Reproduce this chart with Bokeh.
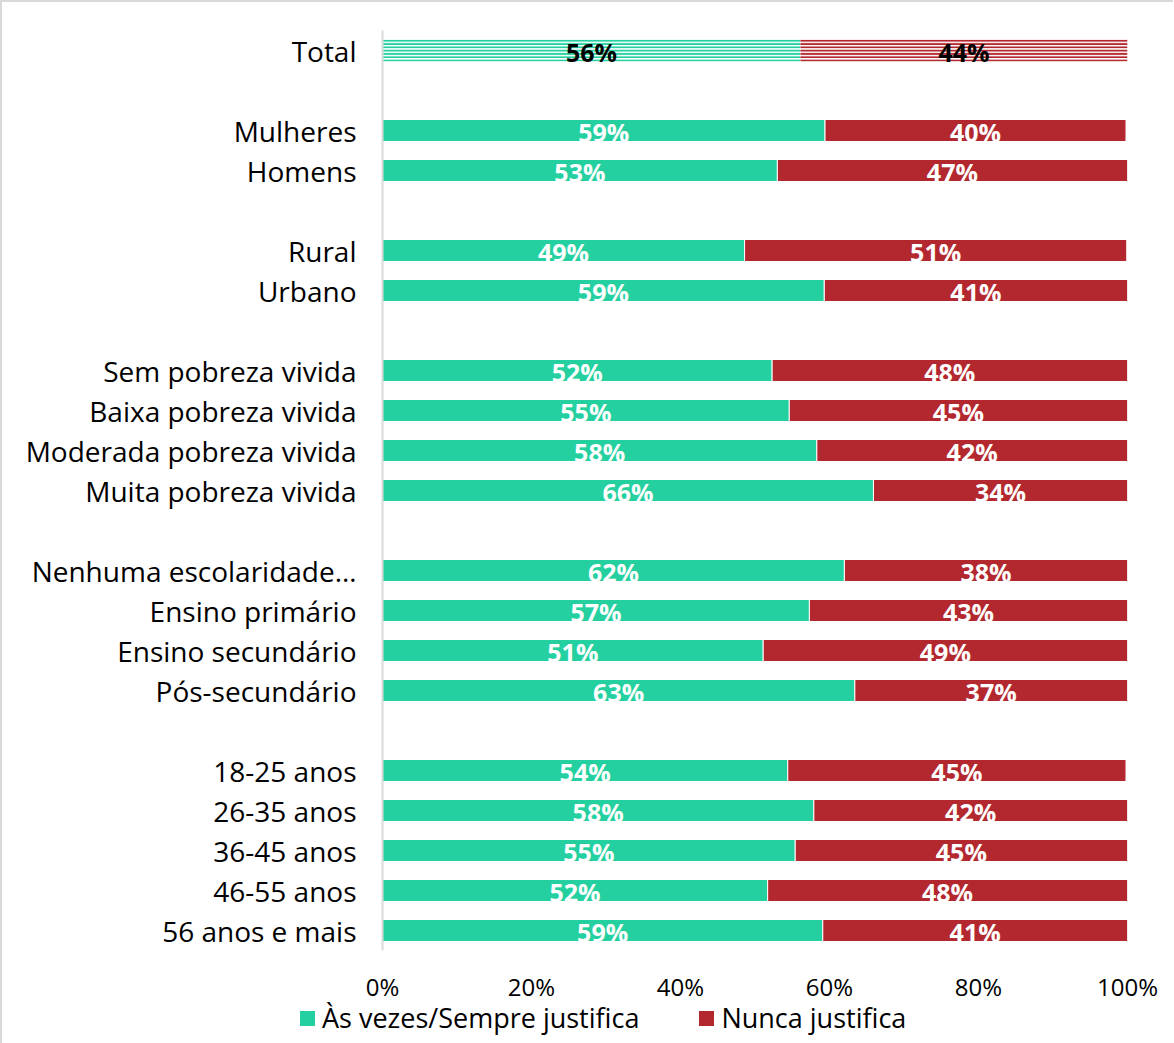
from bokeh.plotting import figure
from bokeh.layouts import column
from bokeh.models import (ColumnDataSource, Range1d, FixedTicker, PrintfTickFormatter, Div)
from bokeh.core.properties import value
from bokeh.embed import file_html
from bokeh.resources import INLINE

# ---- data ----
categories = ["Total", "Mulheres", "Homens", "Rural", "Urbano",
              "Sem pobreza vivida", "Baixa pobreza vivida", "Moderada pobreza vivida",
              "Muita pobreza vivida", "Nenhuma escolaridade…", "Ensino primário",
              "Ensino secundário", "Pós-secundário", "18-25 anos", "26-35 anos",
              "36-45 anos", "46-55 anos", "56 anos e mais"]
# slot index of each category (blank slots separate the groups)
slots = [0, 2, 3, 5, 6, 8, 9, 10, 11, 13, 14, 15, 16, 18, 19, 20, 21, 22]
justifica = [56.1, 59.4, 53.0, 48.6, 59.3, 52.3, 54.6, 58.3, 65.9,
             62.0, 57.3, 51.1, 63.4, 54.4, 57.9, 55.4, 51.7, 59.1]
nunca = [43.9, 40.4, 47.0, 51.3, 40.7, 47.7, 45.4, 41.7, 34.1,
         38.0, 42.7, 48.9, 36.6, 45.4, 42.1, 44.6, 48.3, 40.9]
series_names = ["Às vezes/Sempre justifica", "Nunca justifica"]
x_ticks = [0, 20, 40, 60, 80, 100]

GREEN = "#25D0A0"
RED = "#B3282F"
FONT = "Open Sans"

def r(v):
    return int(v + 0.5)

n = len(categories)
src = ColumnDataSource(dict(
    y=slots,
    gx=[v / 2 for v in justifica],
    rx=[a + b / 2 for a, b in zip(justifica, nunca)],
    gl=[f"{r(v)}%" for v in justifica],
    rl=[f"{r(v)}%" for v in nunca],
    tc=["black"] + ["white"] * (n - 1),
))

total_view = ColumnDataSource(dict(
    y=[slots[0]], g0=[0], g1=[justifica[0]], r0=[justifica[0]],
    r1=[justifica[0] + nunca[0]]))
rest = ColumnDataSource(dict(
    y=slots[1:], g0=[0] * (n - 1), g1=justifica[1:], r0=justifica[1:],
    r1=[a + b for a, b in zip(justifica[1:], nunca[1:])]))

LEFT, RIGHT = 380, 36
p = figure(output_backend="svg", toolbar_location=None,
           frame_width=745, frame_height=920,
           min_border_left=LEFT, min_border_top=28, min_border_right=RIGHT,
           min_border_bottom=0,
           x_range=Range1d(0, 100), y_range=Range1d(22.5, -0.5))

H = 0.55
p.hbar(y="y", left="g0", right="g1", height=H, source=rest,
       fill_color=GREEN, line_color="white", line_width=1)
p.hbar(y="y", left="r0", right="r1", height=H, source=rest,
       fill_color=RED, line_color="white", line_width=1)
p.hbar(y="y", left="g0", right="g1", height=H, source=total_view,
       fill_color="white", line_color=None, hatch_pattern="horizontal_line",
       hatch_color=GREEN, hatch_scale=3.3, hatch_weight=2.3)
p.hbar(y="y", left="r0", right="r1", height=H, source=total_view,
       fill_color="white", line_color=None, hatch_pattern="horizontal_line",
       hatch_color=RED, hatch_scale=3.3, hatch_weight=2.3)

for xcol, tcol in (("gx", "gl"), ("rx", "rl")):
    p.text(x=xcol, y="y", text=tcol, source=src, text_align="center",
           text_baseline="middle", text_color="tc", text_font=value(FONT),
           text_font_style="bold", text_font_size="25px", y_offset=1)

# axes
p.yaxis.ticker = FixedTicker(ticks=slots)
p.yaxis.major_label_overrides = {s: c for s, c in zip(slots, categories)}
p.yaxis.major_label_text_font = FONT
p.yaxis.major_label_text_font_size = "28px"
p.yaxis.major_label_text_color = "black"
p.yaxis.major_label_standoff = 20
p.yaxis.major_tick_line_color = None
p.yaxis.minor_tick_line_color = None
p.yaxis.axis_line_color = "#d9d9d9"
p.yaxis.axis_line_width = 2

p.xaxis.ticker = FixedTicker(ticks=x_ticks)
p.xaxis.formatter = PrintfTickFormatter(format="%d%%")
p.xaxis.major_label_text_font = FONT
p.xaxis.major_label_text_font_size = "24px"
p.xaxis.major_label_text_color = "black"
p.xaxis.major_label_standoff = 13
p.xaxis.axis_line_color = None
p.xaxis.major_tick_line_color = None
p.xaxis.minor_tick_line_color = None

p.grid.visible = False
p.outline_line_color = None

# ---- legend strip below the chart ----
W = LEFT + 745 + RIGHT
items_html = ""
for i, (name, col) in enumerate(zip(series_names, [GREEN, RED])):
    gap = "60px" if i < len(series_names) - 1 else "0"
    items_html += (
        f'<span style="display:inline-block;width:15px;height:15px;'
        f'background:{col};margin-right:7px"></span>'
        f'<span style="margin-right:{gap}">{name}</span>')
legend_div = Div(
    text=(f'<div style="display:flex;align-items:center;font-family:\'{FONT}\';'
          f'font-size:27px;color:#000;line-height:34px;height:34px;'
          f'position:relative;top:-9px;'
          f'padding-left:293px;white-space:nowrap">{items_html}</div>'),
    width=W, height=30)

layout = column(p, legend_div, spacing=0,
                styles={"border-left": "2px solid #d9d9d9",
                        "border-top": "2px solid #d9d9d9"})

open("out.html", "w").write(file_html(layout, INLINE))
